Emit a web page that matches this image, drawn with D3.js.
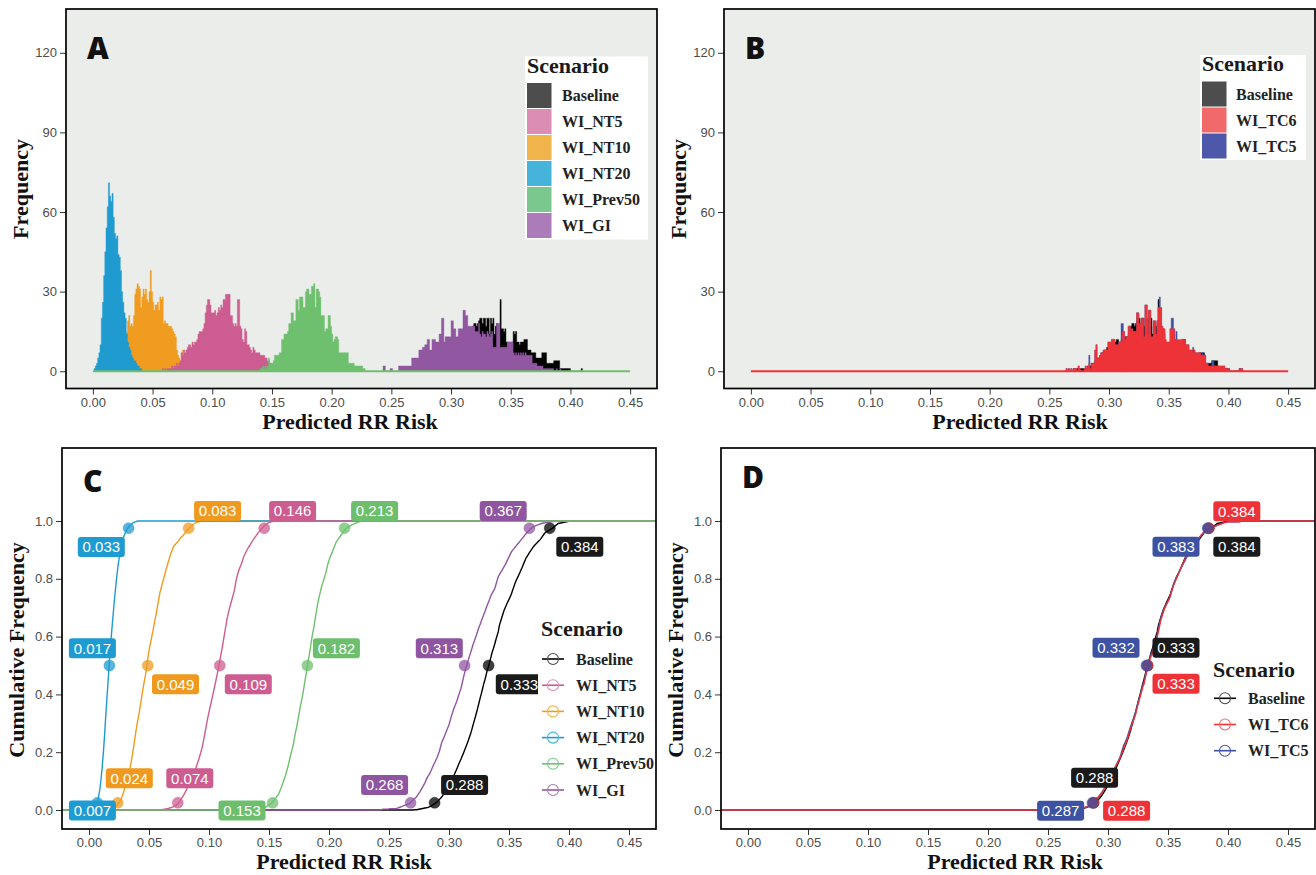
<!DOCTYPE html>
<html lang="en">
<head>
<meta charset="utf-8">
<title>Predicted RR Risk</title>
<script src="https://cdn.jsdelivr.net/npm/d3@7"></script>
<style>
  body { margin: 0; background: #fff; }
</style>
</head>
<body>
<svg id="chart" width="1316" height="875"></svg>
<script>
// ---- data (bin width 0.001, counts per bin) ----
var binWidth = 0.001;
var xTicks = [0, 0.05, 0.10, 0.15, 0.20, 0.25, 0.30, 0.35, 0.40, 0.45];
var histYTicks = [0, 30, 60, 90, 120];
var cdfYTicks = [0, 0.2, 0.4, 0.6, 0.8, 1.0];
var quantileProbs = [0.025, 0.5, 0.975];

var baselineFrom = 0.270;
var baselineCounts = [1,0,0,1,1,1,1,1,1,1,1,1,2,2,2,3,3,3,
  4,4,5,5,5,6,7,7,8,8, 9,9,9,9,10,10,11,11,12,12,
  11,11,12,12,12,13,13,13,14,14, 17,18,18,17,18,19,20,20,18,20,
  20,17,20,20,14,20,18,20,14,17, 18,17,16,27,16,16,15,16,11,11,
  11,10,11,11,15,14,15,11,11,10, 11,11,11,12,12,12,8,8,8,7,
  7,7,7,5,5,5,5,5,7,7, 7,7,3,3,3,3,3,3,4,4,
  4,4,4,1,1,1,1,1,1,1, 1,1,0,0,0,0,0,0,0,0,0,1];

var nt5From = 0.056;
var nt5Counts = [0,0,1,0,1,0,1,1,1,1,2,1,2,2,3,2,3,4,
  7,6,8,7,8,9,10,10,9,11, 10,11,11,12,14,15,15,15,16,18,
  22,25,27,27,25,22,22,22,23,21, 22,24,23,25,24,27,27,29,29,29,
  29,21,21,18,17,18,17,27,27,17, 16,12,11,16,15,10,10,9,8,7,
  9,8,7,7,7,7,6,6,6,6, 5,5,4,4,3,3,2,1,1,1,0,1];

var nt10From = 0.018;
var nt10Counts = [2,3,3,4,5,6,6,8,10,12, 15,19,21,17,18,17,21,29,31,33,
  32,31,24,28,31,29,31,27,26,30, 38,30,26,23,25,25,26,23,28,27,
  28,18,19,18,18,17,17,17,16,15,14,13, 8,6,5,4,7,8,5,4,
  6,6,6,6,5,5,5,4,4,3,3,2,2,1,1,1];

var nt20From = 0.001;
var nt20Counts = [1,2,3,5,7,10,20,26,36,45, 54,62,71,66,64,67,58,52,50,51,
  44,43,38,30,26,22,20,14,11,9, 8,6,5,4,4,3,2,2,1,1];

var prev50From = 0.140;
var prev50Counts = [1,1,2,1,2,1,2,5,3,3, 3,4,6,6,6,6,7,7,12,12,
  14,14,14,15,18,18,22,22,19,19, 27,27,23,28,28,28,24,24,30,31,
  31,29,29,32,32,33,24,31,31,30, 28,21,21,21,15,16,16,21,21,17,
  14,11,12,13,13,12,7,7,7,7, 7,7,7,7,3,3,3,3,3,2,
  2,2,2,2,2,2,1,1];

var giFrom = 0.243;
var giCounts = [2,2,0,0,0,0,1,1,0,0,0,0,0, 2,2,2,2,2,2,2,2,2,2,2, 5,5,5,5,5,5,
  8,8,8,9,9,10,10,12,12,8,8,12,12,12,11,11,11,
  14,14,20,20,11,13,13,13,13,13, 19,19,16,16,13,13,16,16,16,16,
  23,23,21,21,17,17,17,17,17,17, 15,15,15,18,
  14,13,15,14,14,13,15,14,13,14,15, 9,9,9,18,18,18, 9,9,9,9,9,9,
  11,11,11,11,11, 7,6,7,6,7,6,7,6,7,6,7, 6,6,6,6,6, 3,3,3,3,
  2,2,2,2,2, 1,1,1,1,1,1,1,1,1, 0,0,1,0,0,1];

var tc6From = 0.263;
var tc6Counts = [0,1,0,1,0,1,0,1,1,1,0,2,1,0,0,0,1,2,1,2,3,1,3,3,3,
  8,10,5,5,6,7,7,8,8,8, 8,11,11,11,12,12,12,10,10,10,
  11,11,11,15,15,12,13,13,17,17, 16,16,15,15,15,22,22,18,18,20,
  20,13,25,25,14,23,23,13,13,19, 19,14,19,24,24,24,17,16,16,12,
  11,11,11,16,16,16,16,12,12,12, 12,12,12,12,12,12,10,10,10,8,
  8,8,7,8,7,7,7,7,7,6, 6,6,6,3,3,2,2,2,2,2,
  2,2,2,2,2,2,2,2,2,1, 1,1,1,0,0,0,0,0,0,0,0,1,1,1];

var tc5From = 0.263;
var tc5Counts = [0,1,0,1,0,1,0,1,1,1,0,2,1,0,0,0,1,2,1,2,6,1,3,3,3,
  8,10,5,5,6,7,7,8,8,8, 8,11,11,11,12,12,12,10,10,10,
  11,11,18,18,15,12,13,13,17,17, 16,16,15,15,15,22,22,18,18,20,
  20,13,25,25,14,23,23,13,13,19, 19,14,19,24,28,24,17,14,14,10,
  9,9,9,16,20,20,16,12,15,10, 10,10,10,10,10,10,10,10,10,8,
  8,8,9,8,7,7,7,7,7,6, 7,6,6,3,3,2,2,2,4,4,
  2,2,2,2,2,2,2,2,2,1, 1,1,1,0,0,0,0,0,0,0,0,1,1,1];

// quantiles (2.5%, 50%, 97.5%) printed in panels C and D
var baselineQ = [0.288, 0.333, 0.384];
var nt5Q = [0.074, 0.109, 0.146];
var nt10Q = [0.024, 0.049, 0.083];
var nt20Q = [0.007, 0.017, 0.033];
var prev50Q = [0.153, 0.182, 0.213];
var giQ = [0.268, 0.313, 0.367];
var tc6Q = [0.288, 0.333, 0.384];
var tc5Q = [0.287, 0.332, 0.383];

// ---- styles ----
var serif = "'Liberation Serif','Times New Roman',serif";
var sans = "'Liberation Sans',Arial,Helvetica,sans-serif";

// series tables, in drawing order (ggplot draws groups alphabetically)
var groupA = [
  {name: "Baseline",  from: baselineFrom, counts: baselineCounts, q: baselineQ, col: "#000000", key: "#4d4d4d", lab: "#1a1a1a"},
  {name: "WI_GI",     from: giFrom,       counts: giCounts,       q: giQ,       col: "#9157a1", key: "#ab7cb8", lab: "#8f55a0"},
  {name: "WI_NT10",   from: nt10From,     counts: nt10Counts,     q: nt10Q,     col: "#f09c20", key: "#f1b44a", lab: "#ef9a1e"},
  {name: "WI_NT20",   from: nt20From,     counts: nt20Counts,     q: nt20Q,     col: "#1f9bd0", key: "#45b3da", lab: "#1e9bd0"},
  {name: "WI_NT5",    from: nt5From,      counts: nt5Counts,      q: nt5Q,      col: "#cd5d90", key: "#dc8db4", lab: "#cd5c90"},
  {name: "WI_Prev50", from: prev50From,   counts: prev50Counts,   q: prev50Q,   col: "#6ec06e", key: "#7ac88e", lab: "#6dbf6d"}
];
var legendOrderA = ["Baseline", "WI_NT5", "WI_NT10", "WI_NT20", "WI_Prev50", "WI_GI"];

var groupB = [
  {name: "Baseline", from: baselineFrom, counts: baselineCounts, q: baselineQ, col: "#000000", key: "#4d4d4d", lab: "#1a1a1a"},
  {name: "WI_TC5",   from: tc5From,      counts: tc5Counts,      q: tc5Q,      col: "#3d52a5", key: "#4e58aa", lab: "#3d52a3"},
  {name: "WI_TC6",   from: tc6From,      counts: tc6Counts,      q: tc6Q,      col: "#ee3338", key: "#f06a6a", lab: "#ee3338"}
];
var legendOrderB = ["Baseline", "WI_TC6", "WI_TC5"];

// label nudges in px for each quantile label
var nudgeC = {
  "Baseline":  [[30, -17.8], [30.7, 18.7], [30, 18.5]],
  "WI_GI":     [[-26, -17.8], [-25.3, -17.2], [-26.2, -17.2]],
  "WI_NT10":   [[11.5, -24.5], [27.7, 18.7], [29, -17.2]],
  "WI_NT20":   [[-5, 7.7], [-17, -17.2], [-27.3, 18.8]],
  "WI_NT5":    [[12, -24.5], [28.5, 18.7], [28.4, -17.2]],
  "WI_Prev50": [[-30.6, 7.7], [29, -17.2], [30, -17.2]]
};
var nudgeD = {
  "Baseline": [[1, -25], [28.4, -17.7], [28, 18.5]],
  "WI_TC5":   [[-31.8, 8], [-30.4, -17.7], [-31.6, 18.5]],
  "WI_TC6":   [[33, 8], [28.4, 18.2], [28, -17]]
};

var svg = d3.select("#chart");
var xDomain = [-0.0225, 0.4725];

function byName(group, n) { return group.filter(function(s) { return s.name === n; })[0]; }

function styleAxis(g) {
  g.attr("font-family", sans).attr("font-size", 13);
  g.select(".domain").remove();
  g.selectAll(".tick line").attr("stroke", "#333").attr("stroke-width", 1);
  g.selectAll(".tick text").attr("fill", "#4d4d4d");
}

function frame(box, yDomain, bg, id) {
  var x = d3.scaleLinear().domain(xDomain).range([box.x0, box.x1]);
  var y = d3.scaleLinear().domain(yDomain).range([box.y1, box.y0]);
  svg.append("rect").attr("x", box.x0).attr("y", box.y0)
    .attr("width", box.x1 - box.x0).attr("height", box.y1 - box.y0).attr("fill", bg);
  svg.append("clipPath").attr("id", id).append("rect")
    .attr("x", box.x0).attr("y", box.y0).attr("width", box.x1 - box.x0).attr("height", box.y1 - box.y0);
  var g = svg.append("g").attr("clip-path", "url(#" + id + ")");
  return {x: x, y: y, g: g};
}

function axesAndTitles(box, x, y, yTicks, yFmt, yTitle, yTitleY, xTitleX, letter, letterX, letterY) {
  var gx = svg.append("g").attr("transform", "translate(0," + box.y1 + ")")
    .call(d3.axisBottom(x).tickValues(xTicks).tickFormat(d3.format(".2f")).tickSize(6).tickPadding(3));
  styleAxis(gx);
  var gy = svg.append("g").attr("transform", "translate(" + box.x0 + ",0)")
    .call(d3.axisLeft(y).tickValues(yTicks).tickFormat(yFmt).tickSize(6).tickPadding(3));
  styleAxis(gy);

  svg.append("rect").attr("x", box.x0).attr("y", box.y0)
    .attr("width", box.x1 - box.x0).attr("height", box.y1 - box.y0)
    .attr("fill", "none").attr("stroke", "#000").attr("stroke-width", 1.7);

  svg.append("text").attr("x", xTitleX).attr("y", box.y1 + 40)
    .attr("text-anchor", "middle").attr("font-family", serif).attr("font-weight", "bold")
    .attr("font-size", 22).attr("fill", "#111").text("Predicted RR Risk");
  svg.append("text").attr("transform", "translate(" + (box.x0 - 38) + "," + yTitleY + ") rotate(-90)")
    .attr("text-anchor", "middle").attr("font-family", serif).attr("font-weight", "bold")
    .attr("font-size", 22).attr("fill", "#111").text(yTitle);
  svg.append("text").attr("x", letterX).attr("y", letterY)
    .attr("font-family", "'Open Sans',Lato,sans-serif").attr("font-weight", 800)
    .attr("font-size", 30).attr("fill", "#111").text(letter);
}

function histPanel(box, group, legendOrder, zeroColor, leg, id, letter, yTitleY, xTitleX) {
  var f = frame(box, [-6.5, 136.5], "#ebedeb", id);
  var x = f.x, y = f.y;
  var area = d3.area().curve(d3.curveStepAfter)
    .x(function(d) { return x(d[0]); }).y0(y(0)).y1(function(d) { return y(d[1]); });

  group.forEach(function(s) {
    var pts = s.counts.map(function(c, i) { return [s.from + i * binWidth, c]; });
    pts.push([s.from + s.counts.length * binWidth, 0]);
    f.g.append("path").datum(pts).attr("d", area)
      .attr("fill", s.col).attr("stroke", s.col).attr("stroke-width", 0.4);
  });
  // flat part of the histograms along zero
  f.g.append("line").attr("x1", x(0)).attr("x2", x(0.45)).attr("y1", y(0)).attr("y2", y(0))
    .attr("stroke", zeroColor).attr("stroke-width", 2);

  axesAndTitles(box, x, y, histYTicks, d3.format("d"), "Frequency", yTitleY, xTitleX,
    letter, box.x0 + 21, 58.5);

  // legend
  svg.append("rect").attr("x", leg.x).attr("y", leg.y).attr("width", leg.w)
    .attr("height", 27 + legendOrder.length * 26).attr("fill", "#fff");
  svg.append("text").attr("x", leg.x + 2).attr("y", leg.y + 16)
    .attr("font-family", serif).attr("font-weight", "bold").attr("font-size", 22)
    .attr("fill", "#1a1a1a").text("Scenario");
  legendOrder.forEach(function(n, i) {
    var s = byName(group, n);
    var top = leg.y + 26.5 + i * 26;
    svg.append("rect").attr("x", leg.x + 2).attr("y", top).attr("width", 24.5).attr("height", 25)
      .attr("fill", s.key);
    svg.append("text").attr("x", leg.labelX).attr("y", top + 18)
      .attr("font-family", serif).attr("font-weight", "bold").attr("font-size", 16)
      .attr("fill", "#222").text(n);
  });
}

function cdfPanel(box, group, pointOrder, legendOrder, nudges, leg, id, letter, letterY, xTitleX) {
  var f = frame(box, [-0.0657, 1.2526], "#ffffff", id);
  var x = f.x, y = f.y;
  var line = d3.line().x(function(d) { return x(d[0]); }).y(function(d) { return y(d[1]); });

  group.forEach(function(s) {
    var total = d3.sum(s.counts);
    var cum = d3.cumsum(s.counts);
    var pts = [[xDomain[0], 0], [s.from, 0]];
    cum.forEach(function(c, i) { pts.push([s.from + (i + 1) * binWidth, c / total]); });
    pts.push([xDomain[1], 1]);
    f.g.append("path").datum(pts).attr("d", line)
      .attr("fill", "none").attr("stroke", s.col).attr("stroke-width", 1.4);
  });

  pointOrder.forEach(function(n) {
    var s = byName(group, n);
    s.q.forEach(function(v, i) {
      f.g.append("circle").attr("cx", x(v)).attr("cy", y(quantileProbs[i])).attr("r", 5.5)
        .attr("fill", s.col).attr("fill-opacity", 0.75)
        .attr("stroke", s.col).attr("stroke-opacity", 0.5).attr("stroke-width", 0.8);
    });
  });

  group.forEach(function(s) {
    s.q.forEach(function(v, i) {
      var cx = x(v) + nudges[s.name][i][0], cy = y(quantileProbs[i]) + nudges[s.name][i][1];
      var g = svg.append("g").attr("transform", "translate(" + cx + "," + cy + ")");
      g.append("rect").attr("x", -23.5).attr("y", -10).attr("width", 47).attr("height", 20)
        .attr("rx", 3).attr("fill", s.lab);
      g.append("text").attr("text-anchor", "middle").attr("dy", "0.36em")
        .attr("font-family", sans).attr("font-size", 15).attr("fill", "#fff")
        .text(d3.format(".3f")(v));
    });
  });

  // legend
  svg.append("rect").attr("x", leg.x - 3).attr("y", leg.titleY - 24).attr("width", box.x1 - leg.x + 2)
    .attr("height", 36 + legendOrder.length * 26.2).attr("fill", "#fff");
  svg.append("text").attr("x", leg.x).attr("y", leg.titleY)
    .attr("font-family", serif).attr("font-weight", "bold").attr("font-size", 22)
    .attr("fill", "#1a1a1a").text("Scenario");
  legendOrder.forEach(function(n, i) {
    var s = byName(group, n);
    var cy = leg.firstY + i * 26.2;
    svg.append("line").attr("x1", leg.x + 1).attr("x2", leg.x + 23).attr("y1", cy).attr("y2", cy)
      .attr("stroke", s.col).attr("stroke-width", 1.6);
    svg.append("circle").attr("cx", leg.x + 12).attr("cy", cy).attr("r", 5.5)
      .attr("fill", "none").attr("stroke", s.key).attr("stroke-width", 1.1);
    svg.append("text").attr("x", leg.x + 35).attr("y", cy + 5.5)
      .attr("font-family", serif).attr("font-weight", "bold").attr("font-size", 16)
      .attr("fill", "#222").text(n);
  });

  axesAndTitles(box, x, y, cdfYTicks, d3.format(".1f"), "Cumulative Frequency", 650, xTitleX,
    letter, box.x0 + 21, letterY);
}

histPanel({x0: 66, x1: 657, y0: 9, y1: 388.5}, groupA, legendOrderA, "#6ec06e",
  {x: 525, y: 56.5, w: 123, labelX: 562}, "clipA", "A", 189, 350);
histPanel({x0: 724, x1: 1315, y0: 9, y1: 388.5}, groupB, legendOrderB, "#ee3338",
  {x: 1200, y: 55, w: 106, labelX: 1236}, "clipB", "B", 189, 1020);

cdfPanel({x0: 62, x1: 656, y0: 448, y1: 829}, groupA, groupA.map(function(s) { return s.name; }),
  legendOrderA, nudgeC, {x: 541, titleY: 636, firstY: 659}, "clipC", "C", 492, 344);
cdfPanel({x0: 721, x1: 1315, y0: 448, y1: 829}, groupB, ["Baseline", "WI_TC6", "WI_TC5"],
  legendOrderB, nudgeD, {x: 1213, titleY: 677, firstY: 698.3}, "clipD", "D", 488, 1015);
</script>
</body>
</html>
